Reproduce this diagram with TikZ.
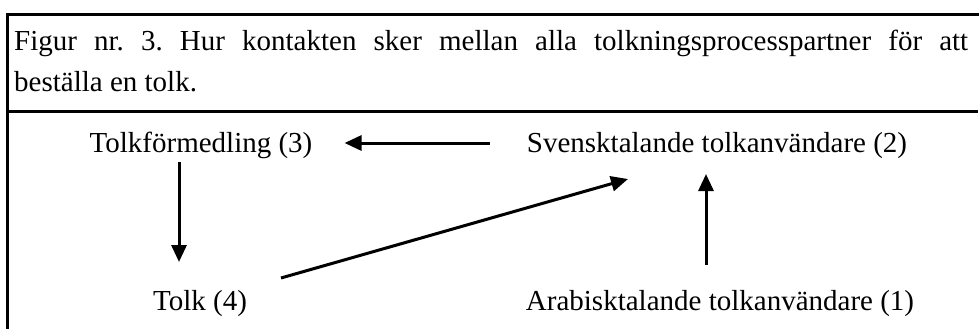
\documentclass[tikz,border=0pt]{standalone}
\usepackage{fontspec}
\setmainfont{Liberation Serif}
\usetikzlibrary{arrows.meta}
\begin{document}
\frenchspacing
\begin{tikzpicture}[x=1pt,y=-1pt,
  lbl/.style={inner sep=0pt, anchor=base, font=\fontsize{29}{35}\selectfont},
  captext/.style={inner sep=0pt, anchor=base west, font=\fontsize{29}{35}\selectfont},
  frame/.style={line width=3pt},
  arr/.style={line width=3pt, -{Triangle[length=17pt,width=15pt]}}]
\useasboundingbox (0,0) rectangle (979,329);
% frame
\draw[frame] (7,329) -- (7,15) -- (979,15);
\draw[frame] (7,111) -- (978,111);
% caption
\node[captext] (c1) at (14,51) {\makebox[954pt][s]{Figur nr. 3. Hur kontakten sker mellan alla tolkningsprocesspartner för att}};
\node[captext] (c2) at (14,92) {beställa en tolk.};
% nodes
\node[lbl] (tf) at (201,152) {Tolkförmedling (3)};
\node[lbl] (sv) at (717,152) {Svensktalande tolkanvändare (2)};
\node[lbl] (tk) at (200,310) {Tolk (4)};
\node[lbl] (ar) at (720,310) {Arabisktalande tolkanvändare (1)};
% connectors
\draw[arr] ([shift={(-37,-9)}]sv.base west) -- ([shift={(32,-9)}]tf.base east);
\draw[arr] ([shift={(-22,10)}]tf.base) -- ([shift={(-21,-48)}]tk.base);
\draw[arr] ([shift={(81,-32)}]tk.base) -- ([shift={(-89,27)}]sv.base);
\draw[arr] ([shift={(-14,-45)}]ar.base) -- ([shift={(-11,22)}]sv.base);
\end{tikzpicture}
\end{document}
